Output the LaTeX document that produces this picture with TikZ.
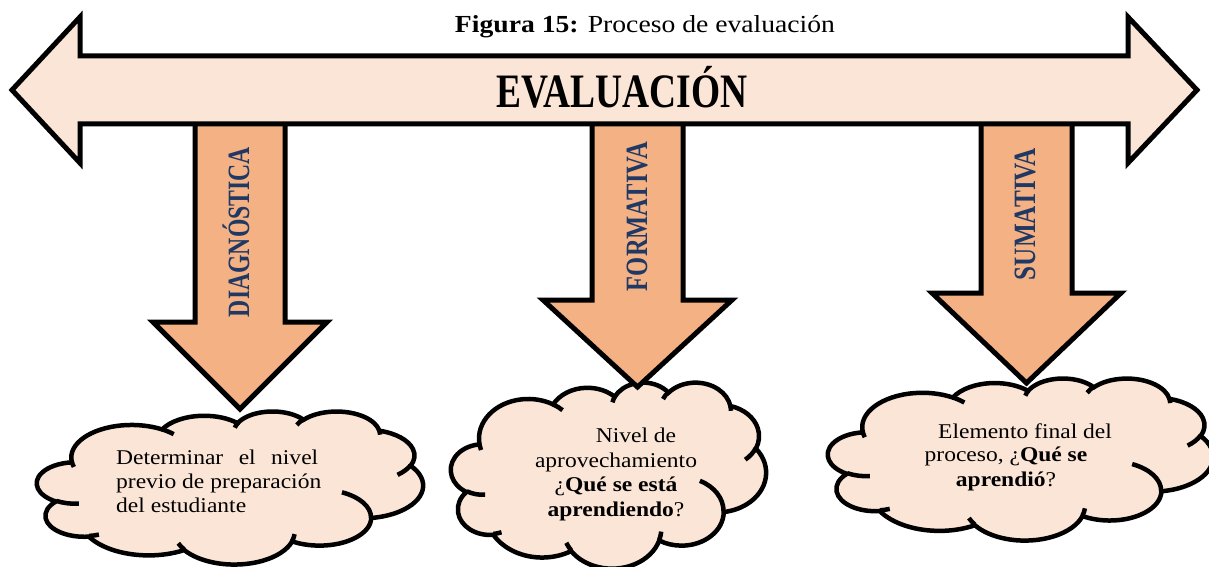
\documentclass[tikz,border=0pt]{standalone}
\usepackage{fontspec}
\usepackage{graphicx}
\setmainfont{Liberation Serif}
\newfontfamily\cfont{Liberation Serif}[FakeStretch=1.12]
\definecolor{peach}{HTML}{FBE5D6}
\definecolor{arrowor}{HTML}{F4B183}
\definecolor{navy}{HTML}{1F3864}
% DrawingML-style arc: wR, hR, start (visual) angle, sweep
\newcommand\carc[4]{arc[x radius=#1pt, y radius=#2pt,
  start angle={atan2((#1)*sin(#3),(#2)*cos(#3))},
  delta angle={mod(atan2((#1)*sin((#3)+(#4)),(#2)*cos((#3)+(#4)))-atan2((#1)*sin(#3),(#2)*cos(#3))+720,360)}]}
\newcommand\wordcloud[4]{%
  \begin{scope}[shift={(#1,#2)},xscale=#3/43.2,yscale=#4/43.2]
    \path[cloudfill] (3.9,14.37)
      \carc{6.753}{9.190}{-190.4875}{123.7805}
      \carc{5.333}{7.267}{-144.1024}{89.9452}
      \carc{4.365}{5.945}{-145.8079}{99.7230}
      \carc{4.857}{6.595}{-130.9861}{117.2417}
      \carc{5.333}{7.273}{-78.7089}{109.0269}
      \carc{6.775}{9.220}{-46.2673}{130.2690}
      \carc{5.785}{7.867}{0.6250}{114.0333}
      \carc{6.752}{9.215}{22.4516}{115.1726}
      \carc{7.720}{10.543}{66.2426}{75.7110}
      \carc{4.360}{5.918}{-274.9421}{146.7356}
      \carc{4.345}{5.945}{-246.8285}{152.5189}
      -- cycle;
    \path[cloudline]
      (4.693,26.177) \carc{4.345}{5.945}{86.742}{26.4295}
      (6.928,34.899) \carc{4.360}{5.918}{73.6105}{11.4475}
      (16.478,39.090) \carc{6.752}{9.215}{137.6242}{14.0811}
      (28.827,34.751) \carc{6.752}{9.215}{6.4533}{15.9984}
      (34.129,22.954) \carc{5.785}{7.867}{-70.2924}{70.9174}
      (41.798,15.354) \carc{5.333}{7.273}{30.3180}{27.7515}
      (38.324,5.426) \carc{4.857}{6.595}{-13.7443}{14.8589}
      (29.078,3.952) \carc{4.857}{6.595}{-149.1815}{18.1954}
      (22.141,4.720) \carc{4.365}{5.945}{-163.4943}{17.6864}
      (14.000,5.192) \carc{6.753}{9.190}{-66.7070}{12.3194}
      (4.127,15.789) \carc{6.753}{9.190}{157.6544}{11.8582};
  \end{scope}}
\begin{document}
\begin{tikzpicture}[x=1pt,y=1pt,yscale=-1,
  cloudfill/.style={fill=peach,draw=black,line width=4.5pt},
  cloudline/.style={draw=black,line width=4.5pt},
  downarrow/.style={fill=arrowor,draw=black,line width=5pt,line join=miter},
  bigarrow/.style={fill=peach,draw=black,line width=5pt,line join=miter},
  ctext/.style={inner sep=0pt,font=\cfont\fontsize{21}{24}\selectfont},
  vlabel/.style={rotate=90,anchor=base,inner sep=0pt,text=navy,font=\bfseries\fontsize{31}{34}\selectfont}]
\useasboundingbox (0,0) rectangle (1209,567);
\fill[white] (0,0) rectangle (1209,567);

% clouds
\wordcloud{37}{411}{386}{153}
\wordcloud{451}{382}{315}{186}
\wordcloud{828}{378}{385}{162}

% down arrows
\path[downarrow] (195,110) -- (195,322) -- (153,322) -- (240,409) -- (327,322) -- (285,322) -- (285,110) -- cycle;
\path[downarrow] (592,110) -- (592,300) -- (543,300) -- (637.5,387) -- (732,300) -- (683,300) -- (683,110) -- cycle;
\path[downarrow] (981,110) -- (981,293) -- (932,293) -- (1026.5,383) -- (1121,293) -- (1072,293) -- (1072,110) -- cycle;

% big double arrow
\path[bigarrow] (12,90) -- (80,17) -- (80,56) -- (1128,56) -- (1128,17) -- (1197,90) -- (1128,163) -- (1128,124) -- (80,124) -- (80,163) -- cycle;

% texts
\node[anchor=base,inner sep=0pt,font=\fontsize{24.5}{28}\selectfont] (title) at (645,33)
  {\resizebox{380pt}{\height}{\textbf{Figura 15:} Proceso de evaluación}};
\node[anchor=base,inner sep=0pt,font=\bfseries\fontsize{48}{50}\selectfont] (eval) at (622,108)
  {\resizebox{251pt}{\height}{EVALUACIÓN}};
\node[vlabel] (diag) at (249,232) {\resizebox{170pt}{\height}{DIAGNÓSTICA}};
\node[vlabel] (form) at (647,216.5) {\resizebox{149pt}{\height}{FORMATIVA}};
\node[vlabel] (suma) at (1035,214) {\resizebox{132pt}{\height}{SUMATIVA}};

\node[ctext,anchor=base west] (c1a) at (116,464) {\makebox[202pt][s]{Determinar el nivel}};
\node[ctext,anchor=base west] (c1b) at (116,488) {previo de preparación};
\node[ctext,anchor=base west] (c1c) at (116,512) {del estudiante};

\node[ctext,anchor=base] (c2a) at (636,442) {Nivel de};
\node[ctext,anchor=base] (c2b) at (616,467) {aprovechamiento};
\node[ctext,anchor=base] (c2c) at (616,491) {¿\textbf{Qué se está}};
\begin{scope}
  \clip (440,495) rectangle (800,520);
  \node[ctext,anchor=base] (c2d) at (616,516) {\textbf{aprendiendo}?};
\end{scope}

\node[ctext,anchor=base] (c3a) at (1025,438) {Elemento final del};
\node[ctext,anchor=base] (c3b) at (1006,461) {proceso, ¿\textbf{Qué se}};
\node[ctext,anchor=base] (c3c) at (1006,486) {\textbf{aprendió}?};
\end{tikzpicture}
\end{document}
